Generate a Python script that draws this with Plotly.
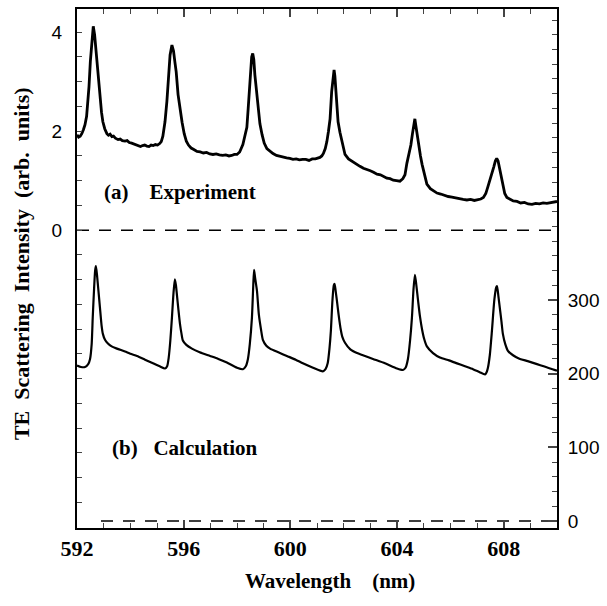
import plotly.graph_objects as go

# ---------------- data ----------------
exp_wl = [592.00, 592.06, 592.12, 592.18, 592.24, 592.30, 592.36, 592.41, 592.45, 592.50,
          592.55, 592.61, 592.66, 592.71, 592.75, 592.80, 592.86, 592.92, 592.97, 593.04,
          593.12, 593.18, 593.24, 593.31, 593.37, 593.44, 593.54, 593.62, 593.70, 593.80,
          593.88, 593.96, 594.05, 594.14, 594.22, 594.30, 594.38, 594.46, 594.54, 594.62,
          594.70, 594.78, 594.86, 594.94, 595.02, 595.10, 595.16, 595.22, 595.30, 595.37,
          595.42, 595.49, 595.56, 595.62, 595.67, 595.72, 595.79, 595.86, 595.94, 596.02,
          596.10, 596.18, 596.28, 596.38, 596.50, 596.62, 596.74, 596.86, 596.98, 597.10,
          597.22, 597.34, 597.46, 597.58, 597.70, 597.80, 597.90, 598.00, 598.10, 598.22,
          598.30, 598.37, 598.42, 598.49, 598.55, 598.59, 598.63, 598.67, 598.73, 598.79,
          598.86, 598.94, 599.02, 599.12, 599.22, 599.35, 599.48, 599.61, 599.74, 599.86,
          599.98, 600.10, 600.22, 600.34, 600.46, 600.58, 600.70, 600.82, 600.94, 601.04,
          601.11, 601.18, 601.24, 601.31, 601.37, 601.43, 601.49, 601.55, 601.60, 601.64,
          601.67, 601.71, 601.75, 601.79, 601.86, 601.94, 602.05, 602.18, 602.31, 602.46,
          602.61, 602.74, 602.87, 603.00, 603.12, 603.25, 603.38, 603.50, 603.62, 603.74,
          603.86, 603.98, 604.11, 604.22, 604.30, 604.37, 604.45, 604.52, 604.58, 604.64,
          604.67, 604.71, 604.76, 604.82, 604.88, 604.94, 605.02, 605.12, 605.25, 605.38,
          605.50, 605.64, 605.78, 605.92, 606.06, 606.20, 606.34, 606.48, 606.62, 606.76,
          606.90, 607.04, 607.14, 607.24, 607.33, 607.41, 607.49, 607.56, 607.63, 607.69,
          607.74, 607.79, 607.85, 607.91, 607.97, 608.04, 608.12, 608.24, 608.36, 608.50,
          608.64, 608.78, 608.92, 609.06, 609.20, 609.34, 609.48, 609.62, 609.76, 609.88,
          610.00]
exp_int = [1.93, 1.88, 1.90, 1.95, 2.03, 2.13, 2.30, 2.62, 2.90, 3.40,
           3.82, 4.12, 3.95, 3.62, 3.38, 3.00, 2.66, 2.38, 2.19, 2.05,
           1.95, 1.92, 1.94, 1.89, 1.90, 1.86, 1.83, 1.84, 1.81, 1.80,
           1.81, 1.77, 1.76, 1.74, 1.72, 1.70, 1.69, 1.71, 1.72, 1.70,
           1.69, 1.72, 1.71, 1.73, 1.72, 1.75, 1.79, 1.90, 2.19, 2.60,
           3.06, 3.54, 3.74, 3.62, 3.40, 3.20, 2.74, 2.45, 2.18, 1.95,
           1.80, 1.72, 1.66, 1.63, 1.59, 1.58, 1.56, 1.57, 1.54, 1.53,
           1.54, 1.52, 1.51, 1.52, 1.50, 1.51, 1.53, 1.53, 1.58, 1.73,
           1.90, 2.08, 2.46, 3.14, 3.50, 3.57, 3.45, 3.14, 2.78, 2.46,
           2.15, 1.93, 1.76, 1.65, 1.60, 1.55, 1.51, 1.49, 1.47, 1.46,
           1.45, 1.43, 1.44, 1.42, 1.43, 1.43, 1.41, 1.44, 1.44, 1.45,
           1.47, 1.50, 1.55, 1.65, 1.79, 2.00, 2.25, 2.80, 3.10, 3.24,
           3.12, 2.80, 2.50, 2.19, 1.98, 1.79, 1.53, 1.44, 1.39, 1.33,
           1.29, 1.25, 1.23, 1.20, 1.17, 1.13, 1.12, 1.08, 1.05, 1.04,
           1.01, 1.00, 0.99, 1.04, 1.12, 1.35, 1.55, 1.72, 1.95, 2.20,
           2.25, 2.10, 1.90, 1.70, 1.50, 1.33, 1.12, 0.93, 0.84, 0.79,
           0.75, 0.73, 0.70, 0.68, 0.67, 0.65, 0.63, 0.62, 0.61, 0.62,
           0.60, 0.61, 0.63, 0.66, 0.74, 0.88, 1.02, 1.12, 1.28, 1.40,
           1.45, 1.40, 1.25, 1.08, 0.88, 0.74, 0.66, 0.62, 0.59, 0.58,
           0.55, 0.56, 0.53, 0.52, 0.54, 0.53, 0.55, 0.54, 0.56, 0.57,
           0.58]

calc_wl = [592.00, 592.15, 592.30, 592.42, 592.49, 592.55, 592.59, 592.64, 592.68, 592.71,
           592.75, 592.79, 592.86, 592.92, 592.97, 593.05, 593.16, 593.30, 593.50, 593.80,
           594.00, 594.25, 594.55, 594.85, 595.10, 595.30, 595.38, 595.44, 595.50, 595.56,
           595.62, 595.67, 595.71, 595.75, 595.80, 595.86, 595.92, 595.97, 596.10, 596.31,
           596.60, 596.99, 597.30, 597.62, 598.00, 598.22, 598.33, 598.41, 598.48, 598.56,
           598.61, 598.64, 598.68, 598.75, 598.82, 598.90, 598.97, 599.10, 599.24, 599.55,
           599.87, 600.20, 600.47, 600.85, 601.22, 601.32, 601.40, 601.47, 601.52, 601.58,
           601.63, 601.66, 601.70, 601.75, 601.81, 601.88, 601.95, 602.05, 602.25, 602.50,
           602.80, 603.10, 603.55, 604.00, 604.22, 604.32, 604.41, 604.49, 604.56, 604.62,
           604.67, 604.71, 604.79, 604.86, 604.94, 605.02, 605.12, 605.35, 605.61, 605.95,
           606.25, 606.55, 606.85, 607.10, 607.30, 607.36, 607.41, 607.48, 607.56, 607.65,
           607.72, 607.75, 607.80, 607.86, 607.92, 607.97, 608.06, 608.16, 608.35, 608.61,
           608.90, 609.25, 609.50, 609.74, 610.00]
calc_int = [211, 209, 209, 213, 220, 240, 276, 315, 340, 346,
            334, 318, 290, 266, 254, 246, 241, 237, 234, 230,
            227, 224, 219, 214, 210, 207, 210, 222, 245, 276,
            310, 328, 320, 306, 288, 268, 254, 245, 239, 234,
            229, 224, 220, 215, 208, 206, 210, 220, 240, 276,
            320, 341, 330, 312, 280, 260, 246, 238, 234, 229,
            224, 219, 214, 208, 203, 206, 214, 235, 258, 300,
            320, 322, 312, 298, 280, 262, 250, 242, 233, 228,
            224, 220, 214, 207, 205, 208, 220, 245, 276, 315,
            334, 325, 299, 278, 260, 247, 237, 228, 222, 218,
            214, 210, 206, 202, 199, 202, 208, 225, 258, 300,
            317, 319, 306, 288, 270, 254, 240, 231, 225, 220,
            217, 213, 210, 207, 204]

x_range = [592, 610]
x_ticks = [592, 596, 600, 604, 608]
left_range = [-6.02, 4.47]
left_ticks = [0, 2, 4]
right_range = [-9.5, 695]
right_ticks = [0, 100, 200, 300]
exp_zero_x = [592, 610]
calc_zero_x = [592.9, 610]

SERIF = "Liberation Serif"
SANS = "Liberation Sans"

fig = go.Figure()
fig.add_trace(go.Scatter(x=exp_wl, y=exp_int, mode="lines",
                         line=dict(color="black", width=2.8), xaxis="x", yaxis="y",
                         showlegend=False))
fig.add_trace(go.Scatter(x=exp_zero_x, y=[0, 0], mode="lines",
                         line=dict(color="black", width=1.5, dash="12px,10px"),
                         xaxis="x", yaxis="y", showlegend=False))
fig.add_trace(go.Scatter(x=calc_wl, y=calc_int, mode="lines",
                         line=dict(color="black", width=2.2, shape="spline", smoothing=0.6),
                         xaxis="x", yaxis="y2", showlegend=False))
fig.add_trace(go.Scatter(x=calc_zero_x, y=[0, 0], mode="lines",
                         line=dict(color="black", width=1.5, dash="12px,10px"),
                         xaxis="x", yaxis="y2", showlegend=False))

fig.update_layout(
    width=607, height=606,
    margin=dict(l=77, r=50, t=7, b=78),
    paper_bgcolor="white", plot_bgcolor="white",
    xaxis=dict(range=x_range, tickvals=x_ticks, ticks="inside", ticklen=8, tickwidth=1.5,
               showline=True, linecolor="black", linewidth=2, mirror="ticks",
               showgrid=False, zeroline=False,
               tickfont=dict(family=SERIF, size=22, color="black", weight="bold"),
               minor=dict(dtick=1, ticks="inside", ticklen=5, tickwidth=1.2, showgrid=False)),
    yaxis=dict(range=left_range, tickvals=left_ticks, ticks="inside", ticklen=5, tickwidth=1.2,
               showline=True, linecolor="black", linewidth=2,
               showgrid=False, zeroline=False, ticklabelstandoff=9,
               tickfont=dict(family=SANS, size=19, color="black"),
               minor=dict(dtick=0.5, tick0=0, ticks="inside", ticklen=5, tickwidth=1.2,
                          showgrid=False)),
    yaxis2=dict(range=right_range, tickvals=right_ticks, overlaying="y", side="right",
                ticks="inside", ticklen=9, tickwidth=1.5,
                showline=True, linecolor="black", linewidth=2,
                showgrid=False, zeroline=False, ticklabelstandoff=5,
                tickfont=dict(family=SANS, size=19, color="black"),
                minor=dict(dtick=20, tick0=0, ticks="inside", ticklen=5, tickwidth=1.2,
                           showgrid=False)),
)

NB = "\u00a0"
fig.add_annotation(text="Wavelength" + NB * 4 + "(nm)", xref="paper", yref="paper",
                   x=0.527, y=-0.102, xanchor="center", yanchor="middle", showarrow=False,
                   font=dict(family=SERIF, size=21, color="black", weight="bold"))
fig.add_annotation(text="TE" + NB * 2 + "Scattering" + NB * 2 + "Intensity" + NB * 2 + "(arb." + NB * 2 + "units)",
                   xref="paper", yref="paper", x=-0.115, y=0.51, textangle=-90,
                   xanchor="center", yanchor="middle", showarrow=False,
                   font=dict(family=SERIF, size=22, color="black", weight="bold"))
fig.add_annotation(text="(a)" + NB * 4 + "Experiment", xref="paper", yref="paper",
                   x=(102 - 77) / 480, y=(528 - 191) / 521, xanchor="left", yanchor="middle",
                   showarrow=False, font=dict(family=SERIF, size=21, color="black", weight="bold"))
fig.add_annotation(text="(b)" + NB * 3 + "Calculation", xref="paper", yref="paper",
                   x=(110 - 77) / 480, y=(528 - 448) / 521, xanchor="left", yanchor="middle",
                   showarrow=False, font=dict(family=SERIF, size=21, color="black", weight="bold"))

fig.write_html("out.html", config={"displayModeBar": False},
               post_script="document.body.style.margin='0';document.body.style.overflow='hidden';")
